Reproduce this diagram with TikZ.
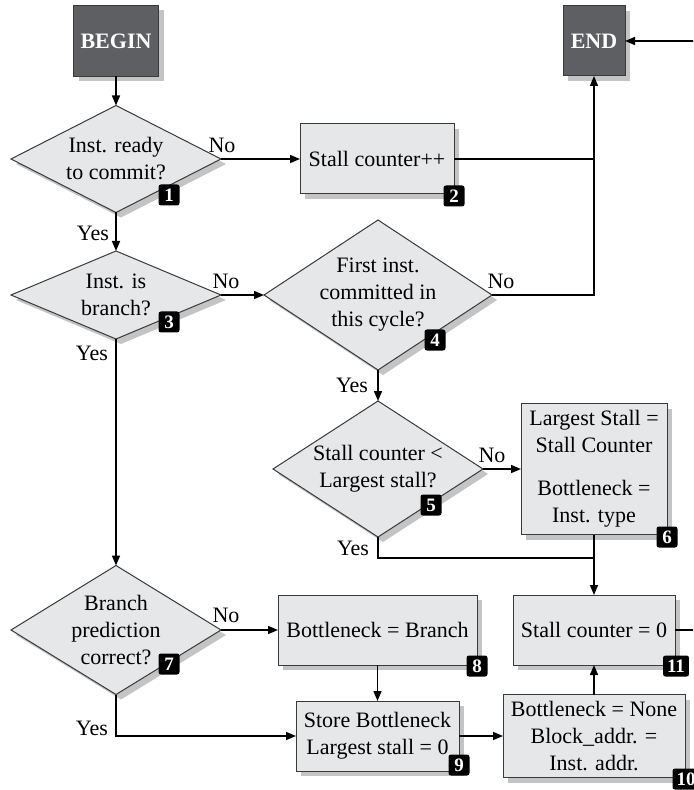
\documentclass[tikz,border=0pt]{standalone}
\usepackage{fontspec}
\setmainfont{Liberation Serif}
\usetikzlibrary{shapes.geometric,shadows,arrows.meta}
\pgfdeclarelayer{foreground}
\pgfsetlayers{main,foreground}
\definecolor{panel}{HTML}{E6E7E9}
\definecolor{termfill}{HTML}{5E5F63}
\definecolor{shade}{HTML}{C4C4C4}
\definecolor{rim}{HTML}{3A3A3A}
\tikzset{
  base/.style={draw=rim, line width=0.5pt, inner sep=0pt, outer sep=0pt, align=center,
    font=\fontsize{11}{13.5}\selectfont,
    drop shadow={shadow xshift=2.5pt, shadow yshift=-2.5pt, fill=shade, opacity=1}},
  terminal/.style={base, fill=termfill, text=white, font=\bfseries\fontsize{11}{13.5}\selectfont},
  process/.style={base, fill=panel},
  decision/.style={base, diamond, aspect=1.5, inner sep=-6pt, fill=panel},
  badge/.style={fill=black, text=white, rounded corners=1.2pt, inner xsep=2pt, inner ysep=0pt,
    minimum width=10.5pt, minimum height=10.5pt, font=\bfseries\fontsize{9.5}{9.5}\selectfont},
  answer/.style={font=\fontsize{11}{13.5}\selectfont, inner sep=0pt},
  flow/.style={line width=0.75pt, -{Triangle[length=5pt,width=4pt]}},
  wire/.style={line width=0.75pt}
}

\begin{document}
\begin{tikzpicture}[x=0.5pt,y=-0.5pt]
\useasboundingbox (0,0) rectangle (693,790);
\clip (0,0) rectangle (693,790);
% start and stop
\node[terminal, minimum width=42.5pt, minimum height=35.5pt] (begin) at (116,41) {BEGIN};
\node[terminal, minimum width=31pt, minimum height=35pt] (end) at (594,41) {END};
% tests
\node[decision, minimum width=105pt, minimum height=53.5pt] (d1) at (116,159) {Inst. ready\\to commit?};
\node[decision, minimum width=105pt, minimum height=44pt] (d3) at (116,295) {Inst. is\\branch?};
\node[decision, minimum width=114pt, minimum height=75pt] (d4) at (378,295) {First inst.\\committed in\\this cycle?};
\node[decision, minimum width=105pt, minimum height=68pt] (d5) at (378,469) {Stall counter <\\Largest stall?};
\node[decision, minimum width=105pt, minimum height=64.5pt] (d7) at (116,630) {Branch\\prediction\\correct?};
% actions
\node[process, minimum width=77pt, minimum height=35pt] (s2) at (377,159) {Stall counter++};
\node[process, minimum width=73pt, minimum height=65.5pt] (b6) at (594,469) {Largest Stall =\\Stall Counter\\[8pt]Bottleneck =\\Inst. type};
\node[process, minimum width=99.5pt, minimum height=35pt] (b8) at (377.5,630) {Bottleneck = Branch};
\node[process, minimum width=81.5pt, minimum height=35pt] (b9) at (377.5,736) {Store Bottleneck\\Largest stall = 0};
\node[process, minimum width=91pt, minimum height=41.5pt] (b10) at (594,736) {Bottleneck = None\\Block\_addr. =\\Inst. addr.};
\node[process, minimum width=81pt, minimum height=35pt] (b11) at (594,630) {Stall counter = 0};

% answers
\node[answer] (no1) at (222,145) {No};
\node[answer] (yes1) at (93,233) {Yes};
\node[answer] (no3) at (226,281) {No};
\node[answer] (yes3) at (92,353) {Yes};
\node[answer] (no4) at (501,281) {No};
\node[answer] (yes4) at (352,385) {Yes};
\node[answer] (no5) at (492,455) {No};
\node[answer] (yes5) at (353,548) {Yes};
\node[answer] (no7) at (226,615) {No};
\node[answer] (yes7) at (92,728) {Yes};

% connectors
\coordinate (feed) at (710,41);
\coordinate (merge) at (594,558);
\coordinate (exit) at (710,630);
\draw[flow] (begin.south) -- (d1.north);
\draw[flow] (d1.east) -- (s2.west);
\draw[flow] (d1.south) -- (d3.north);
\draw[wire] (s2.east) -- (s2.east -| end.south);
\draw[flow] (d4.east) -| (end.south);
\draw[flow] (feed) -- (end.east);
\draw[flow] (d3.east) -- (d4.west);
\draw[flow] (d3.south) -- (d7.north);
\draw[flow] (d4.south) -- (d5.north);
\draw[flow] (d5.east) -- (b6.west);
\draw[wire] (d5.south) |- (merge);
\draw[flow] (b6.south) -- (b11.north);
\draw[flow] (d7.east) -- (b8.west);
\draw[flow] (d7.south) |- (b9.west);
\draw[flow] (b8.south) -- (b9.north);
\draw[flow] (b9.east) -- (b10.west);
\draw[flow] (b10.north) -- (b11.south);
\draw[wire] (b11.east) -- (exit);

\begin{pgfonlayer}{foreground}
\node[badge] (n1) at (169,195) {1};
\node[badge] (n2) at (454,196) {2};
\node[badge] (n3) at (169,322) {3};
\node[badge] (n4) at (435,340) {4};
\node[badge] (n5) at (431,505) {5};
\node[badge] (n6) at (667,537) {6};
\node[badge] (n7) at (169,664) {7};
\node[badge] (n8) at (477,666) {8};
\node[badge] (n9) at (459,765) {9};
\node[badge] (n10) at (686,779) {10};
\node[badge] (n11) at (676,666) {11};
\end{pgfonlayer}
\end{tikzpicture}
\end{document}
